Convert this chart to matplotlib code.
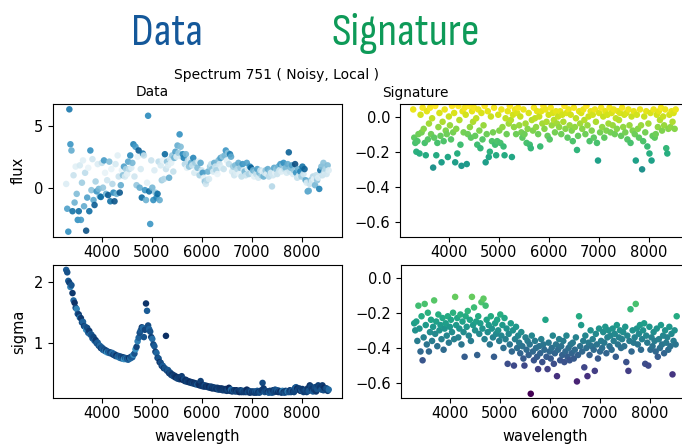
import matplotlib
matplotlib.use("Agg")
import matplotlib.pyplot as plt
from matplotlib.colors import LinearSegmentedColormap, Normalize
from matplotlib.ticker import MultipleLocator
from matplotlib import font_manager

# ---- spectrum 751: wavelength grid, data (flux, sigma) and signatures ----
wavelength = [
    3290, 3311, 3332, 3353, 3374, 3395, 3416, 3437, 3458, 3479,
    3500, 3521, 3542, 3563, 3584, 3605, 3626, 3647, 3668, 3689,
    3710, 3731, 3752, 3773, 3794, 3815, 3836, 3857, 3878, 3899,
    3920, 3941, 3962, 3983, 4004, 4025, 4046, 4067, 4088, 4109,
    4130, 4151, 4172, 4193, 4214, 4235, 4256, 4277, 4298, 4319,
    4340, 4361, 4382, 4403, 4424, 4445, 4466, 4487, 4508, 4529,
    4550, 4571, 4592, 4613, 4634, 4655, 4676, 4697, 4718, 4739,
    4760, 4781, 4802, 4823, 4844, 4865, 4886, 4907, 4928, 4949,
    4970, 4991, 5012, 5033, 5054, 5075, 5096, 5117, 5138, 5159,
    5180, 5201, 5222, 5243, 5264, 5285, 5306, 5327, 5348, 5369,
    5390, 5411, 5432, 5453, 5474, 5495, 5516, 5537, 5558, 5579,
    5600, 5621, 5642, 5663, 5684, 5705, 5726, 5747, 5768, 5789,
    5810, 5831, 5852, 5873, 5894, 5915, 5936, 5957, 5978, 5999,
    6020, 6041, 6062, 6083, 6104, 6125, 6146, 6167, 6188, 6209,
    6230, 6251, 6272, 6293, 6314, 6335, 6356, 6377, 6398, 6419,
    6440, 6461, 6482, 6503, 6524, 6545, 6566, 6587, 6608, 6629,
    6650, 6671, 6692, 6713, 6734, 6755, 6776, 6797, 6818, 6839,
    6860, 6881, 6902, 6923, 6944, 6965, 6986, 7007, 7028, 7049,
    7070, 7091, 7112, 7133, 7154, 7175, 7196, 7217, 7238, 7259,
    7280, 7301, 7322, 7343, 7364, 7385, 7406, 7427, 7448, 7469,
    7490, 7511, 7532, 7553, 7574, 7595, 7616, 7637, 7658, 7679,
    7700, 7721, 7742, 7763, 7784, 7805, 7826, 7847, 7868, 7889,
    7910, 7931, 7952, 7973, 7994, 8015, 8036, 8057, 8078, 8099,
    8120, 8141, 8162, 8183, 8204, 8225, 8246, 8267, 8288, 8309,
    8330, 8351, 8372, 8393, 8414, 8435, 8456, 8477, 8498, 8519,
    8540,
]

flux = [
    0.3, -1.7, -3.55, 6.32, 3.5, 3.0, -1.9, 1.0, -1.2, 1.7,
    -0.5, -2.6, -1.9, 1.8, -2.6, 0.4, 2.2, -1.5, 1.2, -3.47,
    -0.8, 1.6, -1.9, 3.0, -0.2, 2.3, -1.0, -1.4, 0.5, -0.3,
    1.9, -0.1, -0.7, -0.75, 2.0, 0.0, 2.2, 1.2, -0.5, 0.6,
    -0.6, 2.1, -1.1, 1.5, 0.3, -0.4, -1.1, 1.9, -0.5, 2.6,
    0.9, -0.4, 0.2, 1.4, 1.0, 1.7, 0.9, 1.5, 1.1, 2.1,
    1.5, 2.6, 1.6, 2.0, 3.5, 0.9, 3.3, 0.2, 2.5, 3.0,
    0.0, 1.5, -0.8, 2.75, 2.6, -0.2, -1.0, 0.4, 5.8, -0.3,
    -2.93, 2.2, 0.0, -1.0, 1.4, -0.4, -0.8, -0.5, 2.1, -1.0,
    1.8, 0.6, 2.2, 0.7, 2.7, 1.5, 2.1, 1.8, 0.8, 2.3,
    2.0, 2.6, 1.3, 2.4, 2.9, 2.5, 3.4, 2.8, 4.3, 3.3,
    2.5, 2.7, 2.4, 1.9, 2.7, 1.6, 2.2, 1.7, 2.3, 2.0,
    1.8, 2.4, 1.2, 2.0, 1.5, 1.6, 2.1, 1.0, 2.0, 1.4,
    1.2, 0.8, 0.5, 0.3, 0.6, 1.3, 0.7, 1.7, 1.9, 1.5,
    1.3, 2.0, 1.7, 1.4, 1.1, 2.2, 1.9, 2.4, 1.6, 2.5,
    1.5, 2.6, 3.0, 2.2, 2.8, 1.9, 2.7, 2.5, 1.3, 1.7,
    1.0, 1.8, 1.2, 1.5, 2.0, 1.1, 1.6, 0.9, 1.9, 1.4,
    1.3, 1.0, 2.0, 1.5, 1.1, 1.7, 1.6, 1.2, 1.4, 0.9,
    1.3, 1.1, 1.5, 0.8, 1.2, 1.4, 1.0, 1.3, 0.9, 1.2,
    1.4, 1.1, 1.5, 0.9, 1.3, 1.2, 0.1, 1.0, 1.6, 1.2,
    1.5, 1.1, 1.7, 1.4, 1.9, 1.3, 1.8, 2.0, 1.5, 1.6,
    1.2, 1.9, 2.85, 1.3, 1.6, 1.8, 1.1, 1.4, 1.9, 1.2,
    0.8, 1.5, 1.0, 1.3, 0.9, 1.7, 1.1, 1.5, 0.6, 0.4,
    -0.3, -0.25, 0.3, 0.6, 0.5, 0.9, 0.7, 0.2, 1.0, 0.6,
    0.8, -0.1, 1.4, 1.7, 1.0, 2.0, 1.3, 1.5, 1.1, 1.8,
    1.4,
]

sigma = [
    2.20, 2.16, 2.02, 1.99, 1.92, 1.95, 1.82, 1.70, 1.66, 1.58,
    1.56, 1.48, 1.47, 1.42, 1.41, 1.34, 1.35, 1.28, 1.27, 1.22,
    1.25, 1.17, 1.20, 1.14, 1.14, 1.08, 1.10, 1.04, 1.05, 1.00,
    1.01, 0.96, 0.96, 0.92, 0.93, 0.89, 0.90, 0.87, 0.88, 0.85,
    0.86, 0.84, 0.85, 0.83, 0.84, 0.81, 0.82, 0.79, 0.80, 0.78,
    0.79, 0.76, 0.78, 0.75, 0.77, 0.74, 0.76, 0.74, 0.75, 0.73,
    0.76, 0.75, 0.78, 0.77, 0.81, 0.83, 0.90, 0.94, 1.03, 1.09,
    1.17, 1.21, 1.26, 1.25, 1.10, 1.22, 1.65, 1.53, 1.29, 1.23,
    1.19, 1.10, 1.07, 0.98, 0.95, 0.86, 0.84, 0.76, 0.75, 0.69,
    0.68, 0.63, 0.63, 0.59, 0.59, 1.12, 0.55, 0.56, 0.51, 0.52,
    0.48, 0.49, 0.46, 0.47, 0.44, 0.45, 0.42, 0.44, 0.41, 0.42,
    0.46, 0.40, 0.41, 0.38, 0.40, 0.37, 0.38, 0.36, 0.37, 0.35,
    0.36, 0.34, 0.35, 0.33, 0.34, 0.32, 0.33, 0.31, 0.38, 0.30,
    0.32, 0.29, 0.31, 0.29, 0.30, 0.28, 0.29, 0.27, 0.29, 0.26,
    0.28, 0.26, 0.27, 0.25, 0.27, 0.24, 0.26, 0.24, 0.26, 0.23,
    0.25, 0.23, 0.25, 0.22, 0.24, 0.27, 0.22, 0.24, 0.21, 0.23,
    0.23, 0.21, 0.23, 0.21, 0.22, 0.20, 0.23, 0.20, 0.22, 0.20,
    0.22, 0.20, 0.24, 0.20, 0.22, 0.19, 0.21, 0.20, 0.21, 0.19,
    0.21, 0.19, 0.22, 0.20, 0.19, 0.21, 0.23, 0.35, 0.26, 0.20,
    0.22, 0.21, 0.20, 0.19, 0.22, 0.20, 0.19, 0.23, 0.20, 0.24,
    0.21, 0.23, 0.20, 0.22, 0.21, 0.19, 0.22, 0.20, 0.19, 0.22,
    0.20, 0.21, 0.20, 0.23, 0.20, 0.22, 0.21, 0.20, 0.27, 0.28,
    0.26, 0.24, 0.26, 0.22, 0.23, 0.25, 0.20, 0.21, 0.23, 0.20,
    0.26, 0.22, 0.31, 0.29, 0.25, 0.21, 0.24, 0.28, 0.21, 0.25,
    0.31, 0.29, 0.28, 0.24, 0.31, 0.23, 0.27, 0.26, 0.26, 0.22,
    0.24,
]

signature_flux = [
    0.04, -0.12, -0.15, -0.20, -0.14, -0.10, -0.21, 0.01, -0.09, 0.05,
    -0.07, -0.15, -0.22, 0.03, -0.13, -0.04, 0.05, -0.10, -0.01, -0.29,
    -0.12, 0.06, -0.22, -0.15, -0.06, 0.02, -0.11, -0.26, -0.03, -0.14,
    0.04, -0.08, -0.10, -0.23, 0.00, -0.05, -0.13, 0.06, -0.09, 0.02,
    -0.26, -0.07, -0.21, 0.06, -0.02, -0.16, -0.28, 0.03, -0.09, 0.05,
    0.01, -0.27, -0.10, 0.06, -0.06, -0.12, 0.03, -0.03, 0.05, -0.11,
    -0.01, -0.16, 0.04, -0.08, -0.18, 0.02, -0.13, -0.05, 0.06, -0.26,
    -0.10, 0.03, -0.23, -0.20, 0.00, -0.14, -0.09, 0.05, -0.16, -0.22,
    -0.14, 0.01, -0.08, -0.15, 0.04, -0.06, -0.17, -0.22, -0.01, -0.10,
    0.03, -0.04, 0.06, -0.02, -0.23, 0.01, -0.06, 0.04, -0.10, 0.02,
    0.05, -0.05, 0.00, -0.09, -0.12, 0.04, -0.10, -0.04, -0.15, -0.07,
    0.02, -0.16, -0.18, -0.02, -0.08, 0.05, -0.01, -0.06, 0.03, -0.10,
    0.00, -0.17, 0.03, -0.04, 0.06, -0.07, 0.04, -0.03, -0.11, 0.01,
    -0.13, 0.05, -0.05, 0.02, -0.02, -0.09, 0.03, -0.04, 0.00, -0.06,
    0.03, -0.10, 0.01, -0.03, 0.06, -0.07, 0.02, -0.12, 0.04, -0.05,
    0.01, -0.08, -0.14, 0.05, -0.06, -0.01, -0.19, -0.11, 0.03, -0.04,
    0.02, -0.07, 0.04, -0.02, -0.10, 0.06, -0.05, 0.00, -0.14, 0.03,
    -0.08, 0.01, -0.12, 0.04, -0.03, -0.15, -0.25, 0.02, -0.09, 0.05,
    -0.06, 0.00, -0.12, 0.03, -0.08, 0.01, -0.04, 0.05, -0.09, 0.02,
    -0.05, 0.04, -0.10, -0.01, -0.07, 0.03, -0.02, 0.02, -0.11, 0.05,
    -0.06, 0.01, -0.09, 0.02, -0.13, 0.04, -0.05, -0.15, 0.00, -0.08,
    0.03, -0.10, -0.25, 0.01, -0.07, -0.12, 0.04, -0.05, -0.30, -0.14,
    0.00, -0.09, 0.03, -0.17, -0.04, -0.21, 0.02, -0.25, -0.11, 0.04,
    -0.12, -0.10, 0.01, -0.06, 0.03, -0.02, 0.05, -0.08, 0.00, -0.05,
    0.04, -0.18, -0.21, -0.07, 0.01, -0.06, 0.03, -0.03, 0.02, -0.07,
    0.04,
]

signature_sigma = [
    -0.26, -0.30, -0.25, -0.36, -0.16, -0.29, -0.42, -0.22, -0.47, -0.34,
    -0.15, -0.27, -0.38, -0.20, -0.42, -0.31, -0.24, -0.36, -0.28, -0.13,
    -0.32, -0.25, -0.39, -0.21, -0.30, -0.27, -0.35, -0.23, -0.41, -0.29,
    -0.26, -0.33, -0.22, -0.37, -0.28, -0.24, -0.31, -0.20, -0.35, -0.11,
    -0.27, -0.23, -0.34, -0.29, -0.21, -0.38, -0.25, -0.31, -0.45, -0.22,
    -0.28, -0.19, -0.33, -0.24, -0.36, -0.11, -0.27, -0.17, -0.30, -0.25,
    -0.44, -0.22, -0.32, -0.26, -0.14, -0.29, -0.12, -0.35, -0.16, -0.24,
    -0.31, -0.27, -0.38, -0.22, -0.29, -0.34, -0.45, -0.26, -0.32, -0.24,
    -0.30, -0.36, -0.21, -0.33, -0.27, -0.40, -0.23, -0.35, -0.29, -0.49,
    -0.32, -0.38, -0.26, -0.42, -0.30, -0.50, -0.35, -0.28, -0.40, -0.33,
    -0.37, -0.43, -0.31, -0.39, -0.46, -0.50, -0.34, -0.41, -0.36, -0.44,
    -0.38, -0.66, -0.33, -0.42, -0.47, -0.36, -0.40, -0.45, -0.52, -0.39,
    -0.43, -0.35, -0.48, -0.38, -0.41, -0.24, -0.45, -0.52, -0.37, -0.42,
    -0.46, -0.40, -0.33, -0.49, -0.43, -0.38, -0.56, -0.41, -0.35, -0.47,
    -0.39, -0.44, -0.36, -0.48, -0.42, -0.33, -0.45, -0.40, -0.47, -0.38,
    -0.43, -0.37, -0.46, -0.41, -0.34, -0.59, -0.44, -0.22, -0.39, -0.27,
    -0.42, -0.36, -0.51, -0.33, -0.40, -0.56, -0.37, -0.44, -0.30, -0.39,
    -0.35, -0.41, -0.53, -0.32, -0.38, -0.46, -0.29, -0.42, -0.36, -0.40,
    -0.31, -0.37, -0.28, -0.43, -0.34, -0.30, -0.39, -0.33, -0.41, -0.29,
    -0.36, -0.32, -0.45, -0.27, -0.38, -0.34, -0.30, -0.40, -0.35, -0.31,
    -0.39, -0.28, -0.48, -0.33, -0.53, -0.36, -0.18, -0.42, -0.30, -0.37,
    -0.34, -0.15, -0.29, -0.38, -0.32, -0.27, -0.41, -0.35, -0.30, -0.26,
    -0.49, -0.33, -0.37, -0.50, -0.28, -0.41, -0.34, -0.39, -0.31, -0.36,
    -0.42, -0.29, -0.45, -0.35, -0.40, -0.27, -0.38, -0.33, -0.43, -0.30,
    -0.37, -0.34, -0.41, -0.28, -0.39, -0.32, -0.55, -0.36, -0.30, -0.38,
    -0.22,
]

# ---- styling ----
plt.rcParams["font.family"] = ["DejaVu Sans"]
plt.rcParams["xtick.labelsize"] = 10.5
plt.rcParams["ytick.labelsize"] = 10.5
plt.rcParams["axes.labelsize"] = 10.5
plt.rcParams["xtick.major.size"] = 3.6
plt.rcParams["ytick.major.size"] = 3.6
plt.rcParams["xtick.major.pad"] = 2.0
plt.rcParams["ytick.major.pad"] = 3.5

available = {f.name for f in font_manager.fontManager.ttflist}
headline_font = next((name for name in ("Sofia Sans Condensed", "Barlow Condensed", "PT Sans Narrow")
                      if name in available), "DejaVu Sans")

W, H = 682, 446
fig = plt.figure(figsize=(W / 100, H / 100), dpi=100)


def add_axes_px(left, top, right, bottom):
    return fig.add_axes([left / W, 1 - bottom / H, (right - left) / W, (bottom - top) / H])


ax_flux = add_axes_px(53, 104, 342, 237)
ax_sig_flux = add_axes_px(400, 104, 689, 237)
ax_sigma = add_axes_px(53, 265, 342, 398)
ax_sig_sigma = add_axes_px(401, 265, 690, 398)

flux_cmap = LinearSegmentedColormap.from_list(
    "flux_blues", ["#e8f3f8", "#bcdcea", "#72b5d4", "#2b8cbe", "#0b6aa0", "#0b4c80"])
sigma_cmap = LinearSegmentedColormap.from_list(
    "sigma_blues", ["#3b93c3", "#1c5f99", "#0f3c72", "#0b2c60", "#0a2255"])

neg_sig_flux = [-v for v in signature_flux]
neg_sig_sigma = [-v for v in signature_sigma]
all_sig = signature_flux + signature_sigma
sig_norm = Normalize(vmin=min(all_sig), vmax=max(all_sig))

dot = 22
ax_flux.scatter(wavelength, flux, c=neg_sig_flux, cmap=flux_cmap, s=dot, linewidths=0, alpha=0.9)
ax_sigma.scatter(wavelength, sigma, c=neg_sig_sigma, cmap=sigma_cmap, s=dot, linewidths=0)
ax_sig_flux.scatter(wavelength, signature_flux, c=signature_flux, cmap="viridis", norm=sig_norm,
                    s=dot, linewidths=0)
ax_sig_sigma.scatter(wavelength, signature_sigma, c=signature_sigma, cmap="viridis", norm=sig_norm,
                     s=dot, linewidths=0)

for ax in (ax_flux, ax_sig_flux, ax_sigma, ax_sig_sigma):
    ax.set_xlim(3026, 8806)
    ax.xaxis.set_major_locator(MultipleLocator(1000))

ax_flux.set_ylim(-3.98, 6.75)
ax_flux.yaxis.set_major_locator(MultipleLocator(5))
ax_sigma.set_ylim(0.103, 2.28)
ax_sigma.yaxis.set_major_locator(MultipleLocator(1))
for ax in (ax_sig_flux, ax_sig_sigma):
    ax.set_ylim(-0.684, 0.071)
    ax.yaxis.set_major_locator(MultipleLocator(0.2))

ax_flux.set_ylabel("flux")
ax_sigma.set_ylabel("sigma")
for ax in (ax_flux, ax_sigma):
    ax.yaxis.set_label_coords(-0.093, 0.5)
ax_sigma.set_xlabel("wavelength")
ax_sig_sigma.set_xlabel("wavelength")
for ax in (ax_sigma, ax_sig_sigma):
    ax.xaxis.set_label_coords(0.5, -0.235)

ax_flux.set_title("Data", fontsize=9.9, x=0.343, pad=5.4)
ax_sig_flux.set_title("Signature", fontsize=9.9, x=0.054, pad=5.4)

fig.text(276 / W, 1 - 78.5 / H, "Spectrum 751 ( Noisy, Local )", ha="center", va="baseline",
         fontsize=10)
fig.text(166.5 / W, 1 - 45 / H, "Data", ha="center", va="baseline", fontsize=33,
         family=headline_font, color="#14589a")
fig.text(405.5 / W, 1 - 45 / H, "Signature", ha="center", va="baseline", fontsize=33,
         family=headline_font, color="#0e9a58")

fig.savefig("out.png", dpi=100)
